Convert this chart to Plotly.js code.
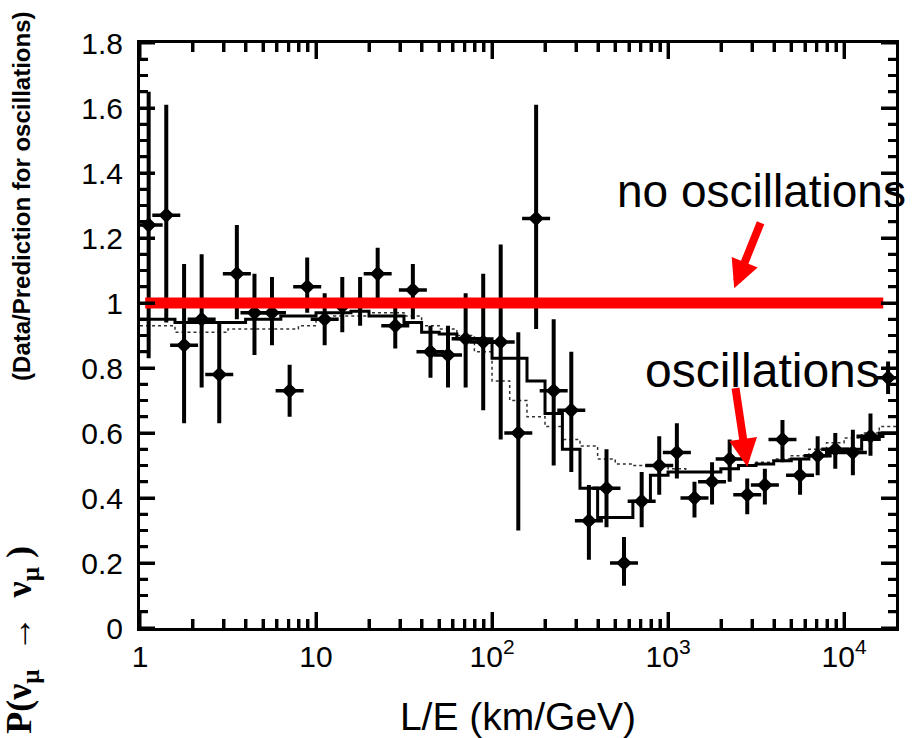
<!DOCTYPE html>
<html>
<head>
<meta charset="utf-8">
<script src="https://cdn.plot.ly/plotly-3.0.1.min.js"></script>
<style>html,body{margin:0;padding:0;background:#fff;}#chart{width:917px;height:738px;}</style>
</head>
<body>
<div id="chart"></div>
<script>
// L/E bin centres (km/GeV) of the data points
const binCenters = [1.12, 1.41, 1.78, 2.24, 2.82, 3.55, 4.47, 5.62, 7.08, 8.91,
  11.2, 14.1, 17.8, 22.4, 28.2, 35.5, 44.7, 56.2, 70.8, 89.1,
  112, 141, 178, 224, 282, 355, 447, 562, 708, 891,
  1122, 1413, 1778, 2239, 2818, 3548, 4467, 5623, 7079, 8913,
  11220, 14125, 17783];
// Data / prediction (no oscillations)
const dataRatio = [1.24, 1.27, 0.87, 0.95, 0.78, 1.09, 0.97, 0.97, 0.73, 1.05,
  0.95, 0.99, 1.00, 1.09, 0.93, 1.04, 0.85, 0.84, 0.89, 0.88,
  0.88, 0.60, 1.26, 0.73, 0.67, 0.33, 0.43, 0.20, 0.39, 0.50,
  0.54, 0.40, 0.45, 0.52, 0.41, 0.44, 0.58, 0.47, 0.53, 0.55,
  0.54, 0.59, 0.77];
const errUp = [0.41, 0.34, 0.25, 0.20, 0.16, 0.15, 0.12, 0.11, 0.08, 0.09,
  0.08, 0.09, 0.08, 0.08, 0.07, 0.08, 0.08, 0.09, 0.14, 0.21,
  0.30, 0.31, 0.35, 0.22, 0.18, 0.11, 0.12, 0.08, 0.09, 0.09,
  0.09, 0.05, 0.06, 0.06, 0.05, 0.05, 0.06, 0.05, 0.06, 0.05,
  0.07, 0.07, 0.05];
const errDown = [0.41, 0.33, 0.24, 0.21, 0.15, 0.14, 0.13, 0.10, 0.08, 0.08,
  0.08, 0.08, 0.07, 0.08, 0.07, 0.09, 0.08, 0.10, 0.15, 0.21,
  0.30, 0.30, 0.34, 0.23, 0.19, 0.12, 0.12, 0.07, 0.08, 0.09,
  0.08, 0.06, 0.07, 0.07, 0.06, 0.06, 0.07, 0.06, 0.06, 0.06,
  0.07, 0.06, 0.05];
// bin edges for the prediction histograms
const binEdges = [1, 1.26, 1.58, 2.0, 2.51, 3.16, 3.98, 5.01, 6.31, 7.94,
  10, 12.6, 15.8, 20, 25.1, 31.6, 39.8, 50.1, 63.1, 79.4,
  100, 126, 158, 200, 251, 316, 398, 501, 631, 794,
  1000, 1259, 1585, 1995, 2512, 3162, 3981, 5012, 6310, 7943,
  10000, 12589, 15849, 19953];
// oscillation prediction (solid histogram)
const oscPred = [0.95, 0.95, 0.94, 0.94, 0.94, 0.94, 0.95, 0.95, 0.96, 0.96,
  0.97, 0.97, 0.975, 0.96, 0.96, 0.94, 0.91, 0.905, 0.89, 0.89,
  0.83, 0.83, 0.76, 0.66, 0.55, 0.43, 0.34, 0.34, 0.39, 0.47,
  0.48, 0.48, 0.48, 0.49, 0.50, 0.505, 0.515, 0.52, 0.53, 0.54,
  0.55, 0.58, 0.60];
// alternative prediction (dotted histogram)
const altPred = [0.93, 0.93, 0.91, 0.91, 0.91, 0.92, 0.92, 0.92, 0.92, 0.93,
  0.95, 0.96, 0.96, 0.97, 0.97, 0.96, 0.93, 0.92, 0.90, 0.85,
  0.76, 0.70, 0.65, 0.62, 0.58, 0.56, 0.52, 0.505, 0.50, 0.50,
  0.49, 0.48, 0.48, 0.49, 0.50, 0.51, 0.52, 0.53, 0.55, 0.57,
  0.585, 0.60, 0.62];
// "no oscillations" reference line
const noOscX = [1.07, 16700];
const noOscY = [1, 1];
// axis ticks
const xTickVals = [1, 10, 100, 1000, 10000];
const xTickText = ['1', '10', '10<sup>2</sup>', '10<sup>3</sup>', '10<sup>4</sup>'];
const xMinorVals = [2, 3, 4, 5, 6, 7, 8, 9, 20, 30, 40, 50, 60, 70, 80, 90,
  200, 300, 400, 500, 600, 700, 800, 900, 2000, 3000, 4000, 5000, 6000, 7000, 8000, 9000];
const yTickVals = [0, 0.2, 0.4, 0.6, 0.8, 1, 1.2, 1.4, 1.6, 1.8];
const yMinorVals = [0.05, 0.1, 0.15, 0.25, 0.3, 0.35, 0.45, 0.5, 0.55, 0.65, 0.7, 0.75,
  0.85, 0.9, 0.95, 1.05, 1.1, 1.15, 1.25, 1.3, 1.35, 1.45, 1.5, 1.55, 1.65, 1.7, 1.75];

const SANS = 'Liberation Sans, Arial, Helvetica, sans-serif';
const XRANGE = [0, 4.295];
const YRANGE = [0, 1.8];
const PLOT_W = 917 - 140 - 21;
const PLOT_H = 738 - 43 - 110;

// inward frame tick marks on all four sides, as line traces
function frameTicks(xVals, yVals, xLen, yLen) {
  const tx = [], ty = [];
  const dy = yLen / PLOT_H * (YRANGE[1] - YRANGE[0]);
  const dxl = xLen / PLOT_W * (XRANGE[1] - XRANGE[0]);
  xVals.forEach(v => {
    tx.push(v, v, null, v, v, null);
    ty.push(YRANGE[0], YRANGE[0] + dy, null, YRANGE[1], YRANGE[1] - dy, null);
  });
  yVals.forEach(v => {
    tx.push(Math.pow(10, XRANGE[0]), Math.pow(10, XRANGE[0] + dxl), null,
            Math.pow(10, XRANGE[1]), Math.pow(10, XRANGE[1] - dxl), null);
    ty.push(v, v, null, v, v, null);
  });
  return {x: tx, y: ty, mode: 'lines', line: {color: '#000', width: 3}, showlegend: false, hoverinfo: 'skip'};
}

const traces = [
  {
    x: binEdges, y: altPred.concat([altPred[altPred.length - 1]]),
    mode: 'lines', line: {shape: 'hv', color: '#333', width: 1.5, dash: 'dot'},
    hoverinfo: 'skip', showlegend: false
  },
  {
    x: binEdges, y: oscPred.concat([oscPred[oscPred.length - 1]]),
    mode: 'lines', line: {shape: 'hv', color: '#000', width: 3},
    hoverinfo: 'skip', showlegend: false
  },
  {
    x: binCenters, y: dataRatio, mode: 'markers',
    marker: {symbol: 'diamond', size: 12, color: '#000'},
    error_y: {type: 'data', symmetric: false, array: errUp, arrayminus: errDown,
      color: '#000', thickness: 4, width: 0},
    showlegend: false
  },
  {
    x: binCenters, y: dataRatio, mode: 'markers',
    marker: {symbol: 'line-ew-open', size: 20, color: '#000', line: {color: '#000', width: 3.5}},
    hoverinfo: 'skip', showlegend: false
  },
  {
    x: noOscX, y: noOscY, mode: 'lines',
    line: {color: '#ff0000', width: 11}, hoverinfo: 'skip', showlegend: false
  },
  frameTicks(xTickVals, yTickVals, 15, 16),
  frameTicks(xMinorVals, yMinorVals, 8, 9)
];

const layout = {
  width: 917, height: 738,
  margin: {l: 140, r: 21, t: 43, b: 110},
  showlegend: false,
  xaxis: {
    type: 'log', range: XRANGE,
    tickmode: 'array', tickvals: xTickVals, ticktext: xTickText,
    ticks: 'inside', ticklen: 16, tickwidth: 3, tickcolor: '#000',
    minor: {ticks: 'inside', ticklen: 9, tickwidth: 3, tickcolor: '#000',
            tickmode: 'array', tickvals: xMinorVals},
    showline: true, linewidth: 3, linecolor: '#000', mirror: 'ticks',
    showgrid: false, zeroline: false,
    tickfont: {family: SANS, size: 30, color: '#000'},
    title: {text: 'L/E (km/GeV)', font: {family: SANS, size: 39, color: '#000'}, standoff: 31}
  },
  yaxis: {
    range: YRANGE, tickmode: 'array', tickvals: yTickVals,
    ticks: 'inside', ticklen: 15, tickwidth: 3, tickcolor: '#000',
    minor: {ticks: 'inside', ticklen: 8, tickwidth: 3, tickcolor: '#000',
            tickmode: 'array', tickvals: yMinorVals},
    showline: true, linewidth: 3, linecolor: '#000', mirror: 'ticks',
    showgrid: false, zeroline: false,
    tickfont: {family: SANS, size: 30, color: '#000'},
    ticklabelstandoff: 8
  },
  annotations: [
    {xref: 'paper', yref: 'paper', x: -0.156, y: -0.02, textangle: -90,
     xanchor: 'center', yanchor: 'middle', showarrow: false,
     text: '<b>P(ν<sub>μ</sub>  →  ν<sub>μ</sub> )</b>',
     font: {family: 'Liberation Serif, Times New Roman, serif', size: 36, color: '#000'}},
    {xref: 'paper', yref: 'paper', x: -0.156, y: 0.737, textangle: -90,
     xanchor: 'center', yanchor: 'middle', showarrow: false,
     text: '<b>(Data/Prediction for oscillations)</b>',
     font: {family: SANS, size: 24, color: '#000'}},
    {xref: 'paper', yref: 'paper', x: 0.6283, y: 0.7477, xanchor: 'left', yanchor: 'middle',
     showarrow: false, text: 'no oscillations',
     font: {family: SANS, size: 46, color: '#000'}},
    {xref: 'paper', yref: 'paper', x: 0.6653, y: 0.440, xanchor: 'left', yanchor: 'middle',
     showarrow: false, text: 'oscillations',
     font: {family: SANS, size: 48, color: '#000'}},
    {xref: 'paper', yref: 'paper', x: 0.786, y: 0.5807, text: '', showarrow: true,
     ax: 27, ay: -67, arrowcolor: '#ff0000', arrowwidth: 8, arrowhead: 2, arrowsize: 0.7, standoff: 0},
    {xref: 'paper', yref: 'paper', x: 0.8033, y: 0.2757, text: '', showarrow: true,
     ax: -12, ay: -80, arrowcolor: '#ff0000', arrowwidth: 8, arrowhead: 2, arrowsize: 0.7, standoff: 0}
  ]
};

Plotly.newPlot('chart', traces, layout, {displayModeBar: false});
</script>
</body>
</html>
